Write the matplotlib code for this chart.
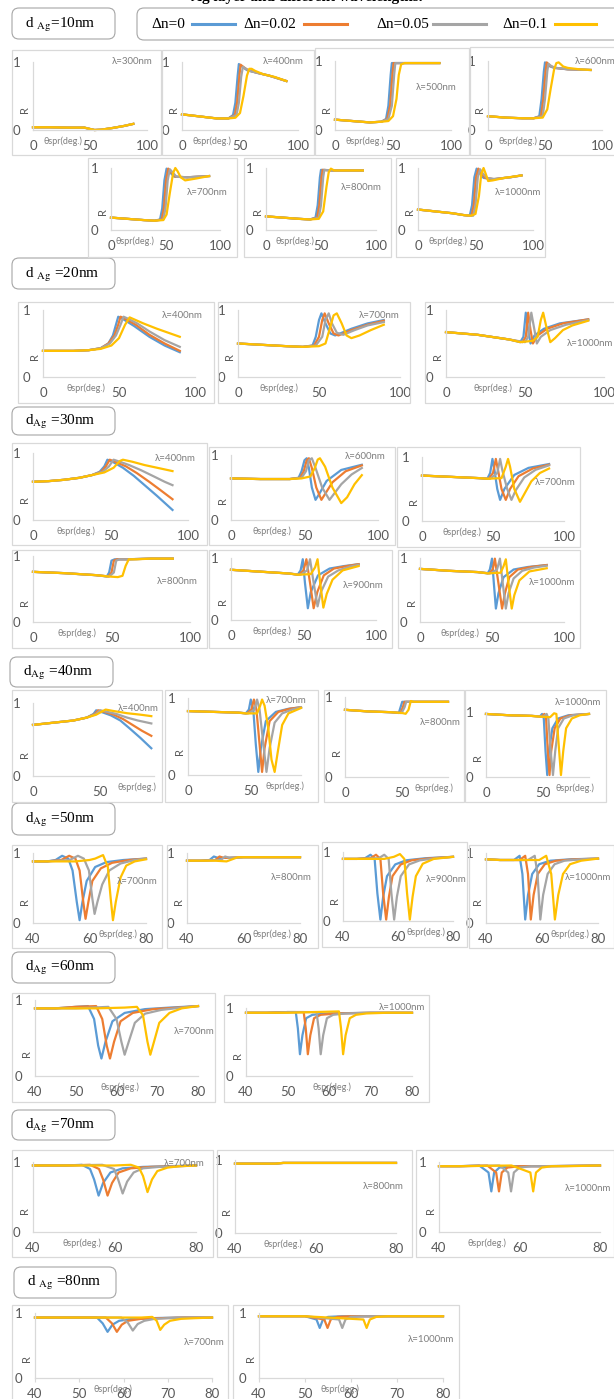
import matplotlib.pyplot as plt
from matplotlib.patches import Rectangle, FancyBboxPatch
from matplotlib.lines import Line2D

W, H = 614, 1399
COLORS = ['#5B9BD5', '#ED7D31', '#A5A5A5', '#FFC000']
DN_LABELS = ['Δn=0', 'Δn=0.02', 'Δn=0.05', 'Δn=0.1']
GRAY_TXT = '#595959'
SANS = ['Lato', 'DejaVu Sans']
SERIF = ['Liberation Serif', 'DejaVu Serif']

# ---- curves: (theta list, R list) for dn = 0, 0.02, 0.05, 0.1 ----
# d_Ag = 10 nm
d10_300_x = [0, 15, 30, 45, 50, 54, 60, 70, 80, 88]
d10_300_y = [0.04, 0.04, 0.035, 0.035, 0.015, 0.0, 0.005, 0.03, 0.06, 0.09]
d10_300 = [(d10_300_x, d10_300_y)] * 4
d10_400 = [
    ([0, 10, 20, 30, 40, 44, 46, 48, 49, 52, 56, 65, 75, 90], [0.23, 0.21, 0.19, 0.17, 0.17, 0.22, 0.4, 0.8, 0.97, 0.93, 0.88, 0.84, 0.8, 0.72]),
    ([0, 10, 20, 30, 40, 45.5, 47.5, 49.5, 50.5, 53.5, 57, 65, 75, 90], [0.23, 0.21, 0.19, 0.17, 0.17, 0.22, 0.4, 0.8, 0.96, 0.92, 0.88, 0.84, 0.8, 0.72]),
    ([0, 10, 20, 30, 40, 47, 49, 51, 52.5, 55, 58, 65, 75, 90], [0.23, 0.21, 0.19, 0.17, 0.17, 0.22, 0.4, 0.78, 0.93, 0.9, 0.87, 0.84, 0.8, 0.72]),
    ([0, 10, 20, 30, 40, 46, 50, 53, 56, 58, 60, 63, 70, 80, 90], [0.23, 0.21, 0.19, 0.17, 0.17, 0.18, 0.25, 0.5, 0.8, 0.9, 0.9, 0.87, 0.82, 0.78, 0.72]),
]
d10_500 = [
    ([0, 15, 30, 40, 44, 46, 48, 49, 55, 70, 90], [0.15, 0.13, 0.11, 0.12, 0.16, 0.35, 0.8, 0.97, 0.97, 0.97, 0.97]),
    ([0, 15, 30, 40, 45, 47.5, 49.5, 50.5, 55, 70, 90], [0.15, 0.13, 0.11, 0.12, 0.16, 0.35, 0.8, 0.97, 0.97, 0.97, 0.97]),
    ([0, 15, 30, 40, 46, 49, 51, 52, 56, 70, 90], [0.15, 0.13, 0.11, 0.12, 0.16, 0.35, 0.8, 0.97, 0.97, 0.97, 0.97]),
    ([0, 15, 30, 40, 46, 50, 53, 55, 57, 60, 70, 90], [0.15, 0.13, 0.11, 0.12, 0.13, 0.2, 0.45, 0.8, 0.95, 0.97, 0.97, 0.97]),
]
d10_600 = [
    ([0, 15, 30, 40, 45, 47, 49, 50, 53, 58, 70, 90], [0.2, 0.18, 0.17, 0.17, 0.2, 0.45, 0.85, 0.98, 0.93, 0.9, 0.88, 0.87]),
    ([0, 15, 30, 40, 46.5, 48.5, 50.5, 51.5, 54.5, 59, 70, 90], [0.2, 0.18, 0.17, 0.17, 0.2, 0.45, 0.85, 0.98, 0.93, 0.9, 0.88, 0.87]),
    ([0, 15, 30, 40, 48, 50, 52, 53, 56, 60, 70, 90], [0.2, 0.18, 0.17, 0.17, 0.2, 0.45, 0.85, 0.96, 0.92, 0.9, 0.88, 0.87]),
    ([0, 15, 30, 40, 48, 52, 55, 58, 60, 62, 66, 70, 80, 90], [0.2, 0.18, 0.17, 0.17, 0.18, 0.3, 0.6, 0.88, 0.97, 0.98, 0.92, 0.9, 0.88, 0.87]),
]
d10_700 = [
    ([0, 15, 30, 40, 45, 47, 49, 51, 53, 58, 70, 90], [0.2, 0.18, 0.16, 0.15, 0.17, 0.35, 0.8, 0.99, 0.95, 0.86, 0.85, 0.87]),
    ([0, 15, 30, 40, 46.5, 48.5, 50.5, 52.5, 54.5, 59, 70, 90], [0.2, 0.18, 0.16, 0.15, 0.17, 0.35, 0.8, 0.99, 0.95, 0.86, 0.85, 0.87]),
    ([0, 15, 30, 40, 48, 50, 52, 54, 56, 60, 70, 90], [0.2, 0.18, 0.16, 0.15, 0.17, 0.35, 0.8, 0.98, 0.94, 0.86, 0.85, 0.87]),
    ([0, 15, 30, 40, 48, 51, 54, 57, 59, 61, 64, 68, 78, 90], [0.2, 0.18, 0.16, 0.15, 0.16, 0.25, 0.6, 0.92, 1.0, 0.95, 0.85, 0.8, 0.83, 0.87]),
]
d10_800 = [
    ([0, 15, 30, 40, 45, 47, 49, 50, 60, 75, 88], [0.22, 0.2, 0.18, 0.17, 0.2, 0.4, 0.85, 0.97, 0.96, 0.96, 0.96]),
    ([0, 15, 30, 40, 46.5, 48.5, 50.5, 51.5, 60, 75, 88], [0.22, 0.2, 0.18, 0.17, 0.2, 0.4, 0.85, 0.97, 0.96, 0.96, 0.96]),
    ([0, 15, 30, 40, 48, 50, 52, 53, 60, 75, 88], [0.22, 0.2, 0.18, 0.17, 0.2, 0.4, 0.85, 0.97, 0.96, 0.96, 0.96]),
    ([0, 15, 30, 40, 48, 52, 55, 57, 59, 62, 75, 88], [0.22, 0.2, 0.18, 0.17, 0.18, 0.3, 0.7, 0.93, 0.99, 0.96, 0.96, 0.96]),
]
d10_1000 = [
    ([0, 15, 30, 40, 45, 47, 49, 51, 53, 57, 65, 80, 90], [0.33, 0.3, 0.27, 0.24, 0.23, 0.4, 0.85, 0.99, 0.93, 0.84, 0.82, 0.85, 0.88]),
    ([0, 15, 30, 40, 46.5, 48.5, 50.5, 52.5, 54.5, 58.5, 66, 80, 90], [0.33, 0.3, 0.27, 0.24, 0.23, 0.4, 0.85, 0.99, 0.93, 0.84, 0.82, 0.85, 0.88]),
    ([0, 15, 30, 40, 48, 50, 52, 54, 56, 60, 67, 80, 90], [0.33, 0.3, 0.27, 0.24, 0.23, 0.4, 0.85, 0.98, 0.92, 0.84, 0.82, 0.85, 0.88]),
    ([0, 15, 30, 40, 46, 50, 53, 55, 57, 59, 61, 65, 75, 90], [0.33, 0.3, 0.27, 0.24, 0.23, 0.26, 0.55, 0.9, 1.0, 0.9, 0.79, 0.8, 0.84, 0.88]),
]

# d_Ag = 20 nm
d20_400 = [
    ([0, 10, 20, 30, 38, 43, 46, 48, 49.5, 53, 60, 70, 80, 90], [0.39, 0.39, 0.39, 0.4, 0.43, 0.5, 0.62, 0.78, 0.9, 0.86, 0.76, 0.6, 0.47, 0.37]),
    ([0, 10, 20, 30, 38, 43, 47, 49.5, 51, 54, 61, 70, 80, 90], [0.39, 0.39, 0.39, 0.4, 0.43, 0.5, 0.62, 0.78, 0.9, 0.87, 0.78, 0.63, 0.5, 0.39]),
    ([0, 10, 20, 30, 38, 44, 48, 51, 53, 56, 62, 70, 80, 90], [0.39, 0.39, 0.39, 0.4, 0.43, 0.5, 0.62, 0.78, 0.9, 0.87, 0.8, 0.68, 0.55, 0.45]),
    ([0, 10, 20, 30, 38, 45, 50, 54, 57, 60, 66, 75, 90], [0.39, 0.39, 0.39, 0.4, 0.42, 0.47, 0.58, 0.78, 0.89, 0.86, 0.8, 0.72, 0.6]),
]
d20_700 = [
    ([0, 15, 30, 40, 46, 48, 50, 51.5, 54, 57, 60, 70, 80, 90], [0.5, 0.48, 0.46, 0.45, 0.47, 0.6, 0.85, 0.95, 0.8, 0.65, 0.62, 0.72, 0.8, 0.85]),
    ([0, 15, 30, 40, 47, 50, 52, 53.5, 56, 59, 62, 70, 80, 90], [0.5, 0.48, 0.46, 0.45, 0.47, 0.6, 0.85, 0.95, 0.8, 0.65, 0.62, 0.7, 0.78, 0.84]),
    ([0, 15, 30, 40, 48, 52, 54, 56, 58, 61, 65, 72, 80, 90], [0.5, 0.48, 0.46, 0.45, 0.47, 0.6, 0.85, 0.95, 0.8, 0.66, 0.63, 0.7, 0.77, 0.82]),
    ([0, 15, 30, 40, 50, 54, 57, 59, 61, 64, 67, 70, 75, 82, 90], [0.5, 0.48, 0.46, 0.45, 0.46, 0.5, 0.75, 0.92, 0.95, 0.8, 0.62, 0.58, 0.62, 0.7, 0.78]),
]
d20_1000 = [
    ([0, 20, 40, 47, 49, 50.5, 52, 53.5, 56, 62, 72, 90], [0.67, 0.63, 0.56, 0.52, 0.6, 0.96, 0.7, 0.5, 0.62, 0.72, 0.8, 0.86]),
    ([0, 20, 40, 48.5, 50.5, 52, 53.5, 55, 58, 64, 74, 90], [0.67, 0.63, 0.56, 0.52, 0.6, 0.96, 0.7, 0.5, 0.62, 0.72, 0.8, 0.86]),
    ([0, 20, 40, 50, 52, 54, 56, 57.5, 60, 66, 76, 90], [0.67, 0.63, 0.56, 0.52, 0.6, 0.96, 0.7, 0.5, 0.6, 0.7, 0.78, 0.85]),
    ([0, 20, 40, 47, 55, 58, 60, 61.5, 63.5, 66, 69, 74, 80, 90], [0.67, 0.63, 0.56, 0.52, 0.54, 0.6, 0.85, 0.96, 0.75, 0.52, 0.58, 0.7, 0.77, 0.84]),
]

# d_Ag = 30 nm
d30_400 = [
    ([0, 10, 20, 30, 38, 43, 46, 48, 52, 58, 65, 72, 80, 90], [0.57, 0.58, 0.6, 0.63, 0.67, 0.72, 0.8, 0.9, 0.86, 0.78, 0.66, 0.52, 0.36, 0.15]),
    ([0, 10, 20, 30, 38, 44, 47, 49.5, 53, 60, 67, 75, 82, 90], [0.57, 0.58, 0.6, 0.63, 0.67, 0.72, 0.8, 0.9, 0.87, 0.8, 0.7, 0.57, 0.45, 0.31]),
    ([0, 10, 20, 30, 38, 45, 49, 52, 56, 62, 70, 78, 85, 90], [0.57, 0.58, 0.6, 0.63, 0.67, 0.72, 0.8, 0.9, 0.87, 0.82, 0.74, 0.65, 0.57, 0.52]),
    ([0, 10, 20, 30, 38, 46, 52, 56, 58, 64, 72, 80, 90], [0.57, 0.58, 0.6, 0.63, 0.67, 0.71, 0.78, 0.88, 0.9, 0.87, 0.82, 0.78, 0.73]),
]
d30_600 = [
    ([0, 20, 40, 46, 48, 50, 51.5, 53, 55, 57.5, 60, 65, 75, 89], [0.64, 0.63, 0.63, 0.65, 0.75, 0.92, 0.95, 0.8, 0.5, 0.31, 0.4, 0.6, 0.77, 0.85]),
    ([0, 20, 40, 47, 49.5, 51.5, 53, 55, 58, 61.5, 64, 69, 78, 89], [0.64, 0.63, 0.63, 0.65, 0.75, 0.92, 0.95, 0.8, 0.5, 0.31, 0.4, 0.58, 0.75, 0.84]),
    ([0, 20, 40, 48, 51, 53, 55, 57.5, 62, 67, 70, 75, 82, 89], [0.64, 0.63, 0.63, 0.65, 0.75, 0.92, 0.95, 0.8, 0.5, 0.31, 0.4, 0.55, 0.7, 0.8]),
    ([0, 20, 40, 48, 54, 57, 59, 60.5, 64, 69, 75, 79, 84, 89], [0.64, 0.63, 0.63, 0.64, 0.67, 0.8, 0.93, 0.95, 0.82, 0.5, 0.26, 0.35, 0.55, 0.69]),
]
d30_700 = [
    ([0, 20, 40, 46, 48, 49.6, 51, 53, 55, 58, 65, 75, 89.5], [0.71, 0.69, 0.67, 0.66, 0.75, 0.97, 0.8, 0.5, 0.33, 0.5, 0.72, 0.83, 0.89]),
    ([0, 20, 40, 47, 50, 52, 53.5, 56, 59, 62, 68, 78, 89.5], [0.71, 0.69, 0.67, 0.66, 0.75, 0.97, 0.8, 0.5, 0.33, 0.5, 0.7, 0.82, 0.88]),
    ([0, 20, 40, 48, 53, 55, 56.5, 60, 63, 66, 72, 80, 89.5], [0.71, 0.69, 0.67, 0.66, 0.75, 0.97, 0.8, 0.5, 0.33, 0.48, 0.68, 0.8, 0.87]),
    ([0, 20, 40, 46, 56, 59, 60.6, 62, 65, 69, 72, 77, 83, 89.5], [0.71, 0.69, 0.67, 0.66, 0.67, 0.85, 0.97, 0.85, 0.5, 0.3, 0.42, 0.62, 0.75, 0.82]),
]
d30_800 = [
    ([0, 20, 40, 47, 48.5, 50, 52, 60, 75, 89], [0.76, 0.74, 0.71, 0.69, 0.75, 0.93, 0.95, 0.95, 0.96, 0.96]),
    ([0, 20, 40, 48, 50, 51.5, 53.5, 60, 75, 89], [0.76, 0.74, 0.71, 0.69, 0.75, 0.93, 0.95, 0.95, 0.96, 0.96]),
    ([0, 20, 40, 48.5, 51.5, 53, 55, 60, 75, 89], [0.76, 0.74, 0.71, 0.69, 0.75, 0.93, 0.95, 0.95, 0.96, 0.96]),
    ([0, 20, 40, 48, 54, 57, 59, 61, 66, 75, 89], [0.76, 0.74, 0.71, 0.69, 0.68, 0.7, 0.85, 0.95, 0.95, 0.96, 0.96]),
]
d30_900 = [
    ([0, 20, 40, 46, 48, 49.5, 51, 53, 55, 60, 68, 78, 88], [0.81, 0.78, 0.75, 0.73, 0.8, 0.98, 0.6, 0.19, 0.45, 0.72, 0.83, 0.87, 0.9]),
    ([0, 20, 40, 47, 50, 52, 54.5, 57, 59.5, 64, 71, 80, 88], [0.81, 0.78, 0.75, 0.73, 0.8, 0.98, 0.6, 0.19, 0.45, 0.72, 0.83, 0.87, 0.9]),
    ([0, 20, 40, 48, 52.5, 54.5, 57, 59.7, 62, 67, 74, 82, 88], [0.81, 0.78, 0.75, 0.73, 0.8, 0.98, 0.6, 0.22, 0.45, 0.7, 0.8, 0.86, 0.89]),
    ([0, 20, 40, 46, 55, 58, 59.7, 61.5, 63.7, 66, 70, 77, 88], [0.81, 0.78, 0.75, 0.73, 0.74, 0.85, 0.98, 0.6, 0.2, 0.42, 0.65, 0.8, 0.87]),
]
d30_1000 = [
    ([0, 20, 40, 47, 48.5, 50, 51.3, 52.7, 54.5, 58, 65, 75, 88], [0.83, 0.8, 0.78, 0.76, 0.82, 0.99, 0.6, 0.21, 0.45, 0.7, 0.82, 0.86, 0.89]),
    ([0, 20, 40, 48, 50.5, 52, 54.5, 57, 59, 62, 68, 77, 88], [0.83, 0.8, 0.78, 0.76, 0.82, 0.99, 0.6, 0.21, 0.45, 0.7, 0.82, 0.86, 0.89]),
    ([0, 20, 40, 49, 53.5, 55.5, 57.5, 59.6, 61.5, 65, 71, 79, 88], [0.83, 0.8, 0.78, 0.76, 0.82, 0.99, 0.6, 0.21, 0.45, 0.68, 0.8, 0.85, 0.88]),
    ([0, 20, 40, 47, 56, 58, 59.6, 61.5, 63.7, 65.5, 69, 76, 88], [0.83, 0.8, 0.78, 0.76, 0.77, 0.87, 0.98, 0.6, 0.21, 0.42, 0.65, 0.79, 0.84]),
]

# d_Ag = 40 nm
d40_400 = [
    ([0, 15, 30, 40, 45, 47, 52, 58, 65, 72, 80, 88], [0.7, 0.73, 0.76, 0.8, 0.85, 0.9, 0.87, 0.83, 0.76, 0.65, 0.52, 0.38]),
    ([0, 15, 30, 40, 46, 48.5, 53, 60, 67, 74, 81, 88], [0.7, 0.73, 0.76, 0.8, 0.85, 0.9, 0.88, 0.84, 0.78, 0.7, 0.62, 0.55]),
    ([0, 15, 30, 40, 47, 50, 55, 62, 70, 78, 88], [0.7, 0.73, 0.76, 0.8, 0.85, 0.9, 0.88, 0.85, 0.8, 0.76, 0.72]),
    ([0, 15, 30, 40, 47, 51, 54, 60, 70, 80, 88], [0.7, 0.73, 0.76, 0.8, 0.84, 0.88, 0.91, 0.89, 0.86, 0.84, 0.82]),
]
d40_700 = [
    ([0, 20, 40, 46, 48.5, 50, 52, 54, 56, 58, 62, 70, 80, 90], [0.83, 0.82, 0.81, 0.8, 0.85, 0.98, 0.85, 0.4, 0.04, 0.35, 0.7, 0.82, 0.86, 0.88]),
    ([0, 20, 40, 47, 50.5, 52.5, 54.5, 57, 59, 61, 65, 72, 81, 90], [0.83, 0.82, 0.81, 0.8, 0.85, 0.98, 0.85, 0.4, 0.04, 0.35, 0.7, 0.82, 0.86, 0.88]),
    ([0, 20, 40, 48, 53, 55, 57, 60, 62.5, 65, 69, 75, 83, 90], [0.83, 0.82, 0.81, 0.8, 0.85, 0.98, 0.85, 0.4, 0.04, 0.35, 0.68, 0.8, 0.85, 0.88]),
    ([0, 20, 40, 46, 55, 57.5, 59, 61, 64, 66.5, 69, 71.5, 75, 80, 90], [0.83, 0.82, 0.81, 0.8, 0.8, 0.9, 0.98, 0.9, 0.6, 0.2, 0.04, 0.3, 0.65, 0.8, 0.87]),
]
d40_800 = [
    ([0, 20, 40, 47, 48.5, 50, 55, 70, 90], [0.84, 0.82, 0.81, 0.8, 0.87, 0.94, 0.94, 0.94, 0.94]),
    ([0, 20, 40, 48.5, 50.5, 52, 56, 70, 90], [0.84, 0.82, 0.81, 0.8, 0.87, 0.94, 0.94, 0.94, 0.94]),
    ([0, 20, 40, 49.5, 52, 53.5, 57, 70, 90], [0.84, 0.82, 0.81, 0.8, 0.87, 0.94, 0.94, 0.94, 0.94]),
    ([0, 20, 40, 50, 53, 55.5, 57.5, 60, 70, 90], [0.84, 0.82, 0.81, 0.8, 0.79, 0.84, 0.95, 0.94, 0.94, 0.94]),
]
d40_1000 = [
    ([0, 20, 40, 47, 49, 50.5, 52, 53.5, 55, 58, 63, 72, 90], [0.97, 0.95, 0.94, 0.93, 0.97, 0.9, 0.4, 0.03, 0.4, 0.75, 0.9, 0.95, 0.97]),
    ([0, 20, 40, 48.5, 51, 52.5, 54, 55.5, 57, 60, 65, 74, 90], [0.97, 0.95, 0.94, 0.93, 0.97, 0.9, 0.4, 0.03, 0.4, 0.75, 0.9, 0.95, 0.97]),
    ([0, 20, 40, 50, 53, 54.5, 56.5, 58.5, 60.5, 63, 68, 76, 90], [0.97, 0.95, 0.94, 0.93, 0.97, 0.9, 0.4, 0.03, 0.4, 0.75, 0.9, 0.95, 0.97]),
    ([0, 20, 40, 46, 56, 59.5, 61.5, 63.5, 65.5, 67.5, 70, 75, 82, 90], [0.97, 0.95, 0.94, 0.93, 0.92, 0.98, 0.97, 0.5, 0.03, 0.4, 0.75, 0.9, 0.95, 0.97]),
]

# d_Ag = 50 nm
d50_700 = [
    ([40, 45, 48, 50.3, 52.5, 54, 55.5, 56.5, 57.5, 59, 62, 66, 72, 80], [0.88, 0.88, 0.9, 0.96, 0.92, 0.75, 0.3, 0.04, 0.3, 0.6, 0.8, 0.87, 0.9, 0.92]),
    ([40, 45, 50, 52.8, 55, 56.5, 57.8, 58.6, 59.6, 61, 64, 68, 74, 80], [0.88, 0.88, 0.9, 0.96, 0.92, 0.75, 0.3, 0.06, 0.3, 0.6, 0.78, 0.86, 0.9, 0.92]),
    ([40, 45, 53, 55.9, 58, 59.8, 61, 61.8, 62.8, 64.5, 67, 71, 76, 80], [0.88, 0.88, 0.9, 0.96, 0.92, 0.75, 0.35, 0.13, 0.3, 0.55, 0.75, 0.85, 0.9, 0.92]),
    ([40, 45, 55, 60, 62, 64.8, 66.5, 67.5, 68.3, 69.3, 71, 73, 76, 80], [0.88, 0.88, 0.88, 0.9, 0.92, 0.97, 0.8, 0.35, 0.04, 0.3, 0.65, 0.82, 0.88, 0.91]),
]
d50_800 = [
    ([40, 45, 48, 49.5, 51, 53, 60, 70, 80], [0.89, 0.89, 0.9, 0.95, 0.93, 0.93, 0.94, 0.94, 0.94]),
    ([40, 45, 50, 51.5, 53, 55, 60, 70, 80], [0.89, 0.89, 0.9, 0.95, 0.93, 0.93, 0.94, 0.94, 0.94]),
    ([40, 45, 52, 53.5, 55, 57, 60, 70, 80], [0.89, 0.89, 0.9, 0.95, 0.93, 0.93, 0.94, 0.94, 0.94]),
    ([40, 45, 50, 54, 56, 58, 60, 70, 80], [0.89, 0.89, 0.89, 0.88, 0.91, 0.94, 0.94, 0.94, 0.94]),
]
d50_900 = [
    ([40, 45, 48, 50, 51.5, 52.5, 53.6, 54.6, 56, 59, 63, 70, 80], [0.9, 0.9, 0.91, 0.96, 0.9, 0.4, 0.02, 0.35, 0.65, 0.82, 0.88, 0.91, 0.93]),
    ([40, 45, 50, 52, 53.6, 54.6, 55.7, 56.7, 58, 61, 65, 72, 80], [0.9, 0.9, 0.91, 0.96, 0.9, 0.4, 0.02, 0.35, 0.65, 0.82, 0.88, 0.91, 0.93]),
    ([40, 45, 53, 55, 56.6, 57.6, 58.6, 59.6, 61, 64, 68, 74, 80], [0.9, 0.9, 0.91, 0.96, 0.9, 0.4, 0.02, 0.35, 0.65, 0.82, 0.88, 0.91, 0.93]),
    ([40, 45, 55, 58.5, 60.7, 62.3, 63.3, 64.3, 65.3, 66.5, 69, 73, 80], [0.9, 0.9, 0.9, 0.93, 0.97, 0.9, 0.4, 0.02, 0.35, 0.65, 0.83, 0.9, 0.93]),
]
d50_1000 = [
    ([40, 45, 50, 52, 53, 54, 55, 56.5, 59, 63, 70, 80], [0.91, 0.9, 0.9, 0.96, 0.7, 0.05, 0.4, 0.7, 0.84, 0.89, 0.91, 0.92]),
    ([40, 45, 52, 54, 55, 56, 57, 58.5, 61, 65, 72, 80], [0.91, 0.9, 0.9, 0.96, 0.7, 0.05, 0.4, 0.7, 0.84, 0.89, 0.91, 0.92]),
    ([40, 45, 55, 57.4, 58.4, 59.4, 60.4, 62, 64.5, 68, 74, 80], [0.91, 0.9, 0.9, 0.96, 0.7, 0.05, 0.4, 0.7, 0.84, 0.89, 0.91, 0.92]),
    ([40, 45, 55, 59, 61.5, 63.3, 64.6, 65.8, 67.5, 70, 74, 80], [0.91, 0.9, 0.9, 0.9, 0.96, 0.7, 0.05, 0.4, 0.7, 0.84, 0.89, 0.92]),
]

# d_Ag = 60 nm
d60_700 = [
    ([40, 45, 50, 53, 54.5, 55.5, 56.3, 57.3, 59, 62, 67, 73, 80], [0.89, 0.89, 0.91, 0.92, 0.75, 0.4, 0.23, 0.45, 0.72, 0.83, 0.88, 0.9, 0.92]),
    ([40, 45, 50, 55, 56.5, 57.6, 58.4, 59.4, 61, 64, 69, 75, 80], [0.89, 0.89, 0.91, 0.92, 0.75, 0.4, 0.23, 0.45, 0.72, 0.83, 0.88, 0.9, 0.92]),
    ([40, 45, 50, 58, 60, 61.2, 62, 63, 64.5, 67, 71, 76, 80], [0.89, 0.89, 0.89, 0.91, 0.75, 0.45, 0.28, 0.45, 0.7, 0.82, 0.87, 0.9, 0.92]),
    ([40, 45, 55, 62, 65, 66.5, 67.6, 68.3, 69.2, 70.5, 73, 76, 80], [0.89, 0.89, 0.89, 0.9, 0.91, 0.8, 0.45, 0.28, 0.45, 0.7, 0.83, 0.89, 0.92]),
]
d60_1000 = [
    ([40, 45, 50, 52, 52.5, 53, 53.6, 54.5, 56, 60, 70, 80], [0.93, 0.93, 0.94, 0.94, 0.7, 0.32, 0.6, 0.85, 0.9, 0.92, 0.93, 0.93]),
    ([40, 45, 50, 53.9, 54.4, 54.9, 55.5, 56.4, 58, 62, 70, 80], [0.93, 0.93, 0.94, 0.94, 0.7, 0.32, 0.6, 0.85, 0.9, 0.92, 0.93, 0.93]),
    ([40, 45, 50, 57, 57.5, 58, 58.6, 59.5, 61, 64, 70, 80], [0.93, 0.93, 0.94, 0.94, 0.7, 0.32, 0.6, 0.85, 0.9, 0.92, 0.93, 0.93]),
    ([40, 45, 50, 62.4, 62.9, 63.4, 64, 65, 66.5, 69, 74, 80], [0.93, 0.93, 0.93, 0.95, 0.7, 0.32, 0.6, 0.85, 0.9, 0.92, 0.93, 0.93]),
]

# d_Ag = 70 nm
d70_700 = [
    ([40, 48, 52, 54, 55, 56.1, 57.2, 59, 62, 67, 73, 80], [0.95, 0.95, 0.96, 0.9, 0.75, 0.52, 0.7, 0.85, 0.91, 0.93, 0.94, 0.95]),
    ([40, 48, 54, 56.2, 57.2, 58.3, 59.4, 61, 64, 69, 75, 80], [0.95, 0.95, 0.96, 0.9, 0.75, 0.52, 0.7, 0.85, 0.91, 0.93, 0.94, 0.95]),
    ([40, 48, 57, 59.9, 60.9, 62, 63.1, 64.7, 67, 71, 76, 80], [0.95, 0.95, 0.96, 0.9, 0.75, 0.55, 0.72, 0.85, 0.91, 0.93, 0.94, 0.95]),
    ([40, 48, 60, 64, 66, 67, 68.1, 69.2, 70.5, 73, 76, 80], [0.95, 0.95, 0.95, 0.96, 0.92, 0.8, 0.57, 0.75, 0.87, 0.92, 0.94, 0.95]),
]
d70_800_x = [40, 50, 52, 60, 70, 80]
d70_800_y = [0.95, 0.95, 0.96, 0.96, 0.96, 0.96]
d70_800 = [(d70_800_x, d70_800_y)] * 4
d70_1000 = [
    ([40, 45, 50, 52.3, 53, 53.7, 55, 58, 65, 80], [0.94, 0.94, 0.95, 0.85, 0.58, 0.85, 0.92, 0.94, 0.94, 0.95]),
    ([40, 45, 52, 54.2, 54.9, 55.6, 57, 60, 66, 80], [0.94, 0.94, 0.95, 0.85, 0.58, 0.85, 0.92, 0.94, 0.94, 0.95]),
    ([40, 45, 55, 57.2, 57.9, 58.6, 60, 63, 68, 80], [0.94, 0.94, 0.95, 0.85, 0.58, 0.85, 0.92, 0.94, 0.94, 0.95]),
    ([40, 45, 58, 62.7, 63.4, 64.1, 65.5, 68, 72, 80], [0.94, 0.94, 0.95, 0.85, 0.58, 0.85, 0.92, 0.94, 0.94, 0.95]),
]

# d_Ag = 80 nm
d80_700 = [
    ([40, 50, 54, 55.3, 56.4, 57.5, 59, 62, 66, 72, 80], [0.93, 0.93, 0.93, 0.84, 0.71, 0.82, 0.88, 0.91, 0.92, 0.93, 0.93]),
    ([40, 50, 56, 57.4, 58.5, 59.6, 61, 64, 68, 74, 80], [0.93, 0.93, 0.93, 0.84, 0.71, 0.82, 0.88, 0.91, 0.92, 0.93, 0.93]),
    ([40, 50, 59.5, 61, 62.1, 63.2, 64.7, 67, 70, 75, 80], [0.93, 0.93, 0.93, 0.85, 0.73, 0.83, 0.88, 0.91, 0.92, 0.93, 0.93]),
    ([40, 50, 64, 66.5, 67.5, 68.3, 69.2, 70.5, 73, 76, 80], [0.93, 0.93, 0.93, 0.94, 0.88, 0.74, 0.82, 0.88, 0.91, 0.92, 0.93]),
]
d80_1000 = [
    ([40, 50, 52.5, 53.2, 53.9, 55, 58, 65, 80], [0.95, 0.95, 0.9, 0.77, 0.9, 0.94, 0.95, 0.95, 0.95]),
    ([40, 50, 54.2, 54.9, 55.6, 57, 60, 66, 80], [0.95, 0.95, 0.9, 0.77, 0.9, 0.94, 0.95, 0.95, 0.95]),
    ([40, 50, 57.4, 58.1, 58.8, 60, 63, 68, 80], [0.95, 0.95, 0.9, 0.77, 0.9, 0.94, 0.95, 0.95, 0.95]),
    ([40, 50, 62.7, 63.4, 64.1, 65.5, 68, 72, 80], [0.95, 0.95, 0.9, 0.77, 0.9, 0.94, 0.95, 0.95, 0.95]),
]

SECTION_TEXT = [r'd $_{\rm Ag}$=10nm', r'd $_{\rm Ag}$ =20nm', r'd$_{\rm Ag}$ =30nm', r'd$_{\rm Ag}$ =40nm',
                r'd$_{\rm Ag}$ =50nm', r'd$_{\rm Ag}$ =60nm', r'd$_{\rm Ag}$ =70nm', r'd $_{\rm Ag}$ =80nm']

# ---- layout in pixels ----
SECTION_BOX = [(12, 8, 115, 39), (12, 258, 115, 289), (12, 407, 115, 435), (10, 657, 113, 687),
               (12, 803, 115, 835), (12, 952, 115, 983), (12, 1110, 115, 1140), (14, 1267, 116, 1298)]

# panel: data, lambda, box px, axes px (left, right, top=R1, bottom=R0), (xlim, xticks),
#        lambda label pos (axes frac, right edge), xlabel centre (axes frac x)
P100 = ((0, 100), [0, 50, 100])
P90 = ((0, 90), [0, 50])
P4080 = ((40, 80), [40, 60, 80])
P40_5 = ((40, 80), [40, 50, 60, 70, 80])
PANELS = [
    (d10_300, '300', (12, 50, 161, 155), (33, 147, 62, 130), P100, (1.05, 1.0), 0.26),
    (d10_400, '400', (162, 50, 314, 155), (182, 298, 62, 130), P100, (1.05, 1.0), 0.26),
    (d10_500, '500', (315, 48, 469, 155), (335, 451, 61, 130), P100, (1.05, 0.62), 0.26),
    (d10_600, '600', (470, 47, 616, 155), (488, 602, 61, 130), P100, (1.12, 1.0), 0.26),
    (d10_700, '700', (88, 158, 237, 257), (111, 220, 168, 230), P100, (1.07, 0.6), 0.22),
    (d10_800, '800', (244, 158, 391, 257), (266, 376, 168, 230), P100, (1.05, 0.68), 0.26),
    (d10_1000, '1000', (396, 158, 545, 257), (418, 533, 168, 230), P100, (1.07, 0.6), 0.26),
    (d20_400, '400', (18, 302, 214, 403), (43, 195, 310, 377), P100, (1.05, 0.92), 0.28),
    (d20_700, '700', (218, 302, 410, 403), (238, 400, 310, 377), P100, (1.0, 0.92), 0.25),
    (d20_1000, '1000', (425, 302, 616, 403), (446, 604, 310, 377), P100, (1.06, 0.5), 0.3),
    (d30_400, '400', (12, 443, 207, 545), (33, 188, 453, 520), P100, (1.05, 0.92), 0.28),
    (d30_600, '600', (209, 447, 395, 545), (231, 378, 455, 520), P100, (1.05, 0.97), 0.28),
    (d30_700, '700', (397, 447, 580, 547), (422, 564, 457, 521), P100, (1.08, 0.6), 0.28),
    (d30_800, '800', (12, 550, 207, 648), (33, 190, 556, 622), P100, (1.05, 0.62), 0.28),
    (d30_900, '900', (209, 550, 392, 648), (231, 376, 558, 620), P100, (1.05, 0.55), 0.28),
    (d30_1000, '1000', (398, 550, 580, 648), (420, 564, 558, 622), P100, (1.08, 0.62), 0.28),
    (d40_400, '400', (12, 690, 162, 802), (33, 154, 703, 776), P90, (1.04, 0.92), 0.86),
    (d40_700, '700', (165, 690, 318, 802), (188, 301, 698, 775), P90, (1.05, 0.97), 0.86),
    (d40_800, '800', (324, 690, 464, 802), (345, 448, 697, 777), P90, (1.12, 0.68), 0.86),
    (d40_1000, '1000', (465, 690, 606, 802), (486, 589, 712, 777), P90, (1.12, 1.15), 0.86),
    (d50_700, '700', (12, 845, 162, 948), (33, 146, 853, 923), P4080, (1.1, 0.6), 0.75),
    (d50_800, '800', (167, 845, 318, 948), (187, 300, 853, 923), P4080, (1.1, 0.65), 0.75),
    (d50_900, '900', (322, 842, 467, 947), (343, 453, 852, 921), P4080, (1.12, 0.6), 0.75),
    (d50_1000, '1000', (469, 845, 614, 948), (486, 598, 853, 923), P4080, (1.12, 0.65), 0.75),
    (d60_700, '700', (12, 993, 215, 1102), (35, 198, 1000, 1076), P40_5, (1.1, 0.58), 0.52),
    (d60_1000, '1000', (224, 995, 429, 1102), (246, 412, 1008, 1076), P40_5, (1.08, 1.0), 0.52),
    (d70_700, '700', (12, 1150, 213, 1257), (33, 196, 1162, 1232), P4080, (1.05, 0.98), 0.3),
    (d70_800, '800', (217, 1150, 412, 1257), (235, 396, 1160, 1233), P4080, (1.05, 0.64), 0.3),
    (d70_1000, '1000', (416, 1150, 614, 1257), (439, 600, 1162, 1232), P4080, (1.07, 0.62), 0.3),
    (d80_700, '700', (12, 1305, 228, 1402), (35, 212, 1313, 1378), P40_5, (1.07, 0.55), 0.44),
    (d80_1000, '1000', (233, 1305, 459, 1402), (259, 443, 1313, 1378), P40_5, (1.06, 0.6), 0.44),
]

plt.rcParams['mathtext.fontset'] = 'stix'
fig = plt.figure(figsize=(W / 100, H / 100), dpi=100)


def inch_rect(x0, y0, x1, y1):
    return (x0 / 100, (H - y1) / 100), (x1 - x0) / 100, (y1 - y0) / 100


def round_box(x0, y0, x1, y1):
    xy, w, h = inch_rect(x0, y0, x1, y1)
    fig.add_artist(FancyBboxPatch(xy, w, h, boxstyle='round,pad=0,rounding_size=0.07',
                                  transform=fig.dpi_scale_trans, fc='white', ec='#a6a6a6', lw=0.8))


# title, partly cut off by the top edge as in the source
fig.text(307 / W, 1 + 3 / H, 'Ag layer and different wavelengths.', ha='center', va='center',
         fontsize=11, fontweight='bold', family=SERIF)

# legend box
round_box(137, 8, 622, 40)
leg_text_x = [151, 243, 376, 502]
leg_line_x = [(192, 235), (304, 347), (433, 486), (555, 596)]
for lab, tx, (la, lb), c in zip(DN_LABELS, leg_text_x, leg_line_x, COLORS):
    fig.text(tx / W, 1 - 24 / H, lab, ha='left', va='center', fontsize=11, family=SERIF)
    fig.add_artist(Line2D([la / W, lb / W], [1 - 24 / H] * 2, color=c, lw=2.2, transform=fig.transFigure))

# section labels
for (x0, y0, x1, y1), txt in zip(SECTION_BOX, SECTION_TEXT):
    round_box(x0, y0, x1, y1)
    fig.text((x0 + 13) / W, 1 - ((y0 + y1) / 2 + 1) / H, txt, ha='left', va='center', fontsize=11, family=SERIF)

# panels
for curves, lam, box, axpx, (xlim, xticks), lam_pos, xlab_x in PANELS:
    xy, w, h = inch_rect(*box)
    fig.add_artist(Rectangle(xy, w, h, transform=fig.dpi_scale_trans, fill=False, ec='#d9d9d9', lw=0.9))
    l, r, t, b = axpx
    ax = fig.add_axes([l / W, 1 - b / H, (r - l) / W, (b - t) / H])
    ax.patch.set_alpha(0)
    for (xs, ys), c in zip(curves, COLORS):
        ax.plot(xs, ys, color=c, lw=1.6, clip_on=False, solid_joinstyle='round')
    ax.set_xlim(xlim)
    ax.set_ylim(0, 1)
    ax.set_xticks(xticks)
    ax.set_yticks([0, 1])
    for s in ('top', 'right'):
        ax.spines[s].set_visible(False)
    for s in ('left', 'bottom'):
        ax.spines[s].set_color('#d9d9d9')
        ax.spines[s].set_linewidth(0.9)
    tick_len = 3 if b > 1300 else 0
    ax.tick_params(axis='x', length=tick_len, color='#d9d9d9', pad=7 - tick_len, labelsize=9.5, labelcolor=GRAY_TXT)
    ax.tick_params(axis='y', length=0, pad=9, labelsize=9.5, labelcolor=GRAY_TXT)
    for lbl in ax.get_xticklabels() + ax.get_yticklabels():
        lbl.set_family(SANS)
    ax.annotate('R', xy=(0, 0.3), xycoords='axes fraction', xytext=(-6, 0), textcoords='offset points',
                rotation=90, ha='center', va='center', fontsize=8, color=GRAY_TXT, family=SANS)
    ax.annotate('θspr(deg.)', xy=(xlab_x, 0), xycoords='axes fraction', xytext=(0, -8),
                textcoords='offset points', ha='center', va='center', fontsize=6.5, color='#7f7f7f', family=SANS)
    ax.text(lam_pos[0], lam_pos[1], 'λ=' + lam + 'nm', transform=ax.transAxes, ha='right', va='center',
            fontsize=7, color='#7f7f7f', family=SANS)

fig.savefig('out.png', dpi=100)
